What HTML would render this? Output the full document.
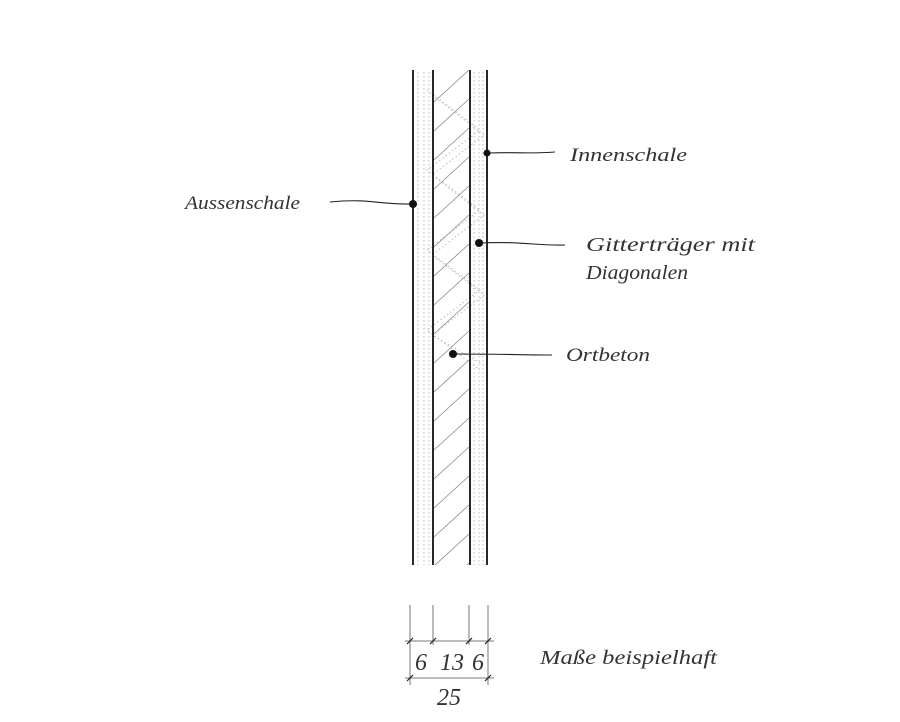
<!DOCTYPE html>
<html><head><meta charset="utf-8"><style>
html,body{margin:0;padding:0;background:#fff;}
svg{display:block;}
text{font-family:"Liberation Serif",serif;font-style:italic;fill:#333;}
</style></head><body>
<svg width="900" height="722" viewBox="0 0 900 722" xmlns="http://www.w3.org/2000/svg">
<defs>
<clipPath id="mid"><rect x="434" y="70" width="35" height="495"/></clipPath>
</defs>
<g stroke="#bbb" stroke-width="1" stroke-dasharray="1.5 2.5" fill="none">
<line x1="418" y1="72" x2="418" y2="565"/>
<line x1="424" y1="72" x2="424" y2="565"/>
<line x1="429" y1="72" x2="429" y2="565"/>
<line x1="474" y1="72" x2="474" y2="565"/>
<line x1="479" y1="72" x2="479" y2="565"/>
<line x1="483" y1="72" x2="483" y2="565"/>
<polyline points="427,90 480,130 427,170 480,210 427,250 480,290 427,330 480,370"/>
<polyline points="432,95 484,135 432,175 484,215 432,255 484,295 432,335 484,365"/>
</g>
<g clip-path="url(#mid)" stroke="#888" stroke-width="0.8">
<line x1="434" y1="102" x2="469" y2="70"/>
<line x1="434" y1="131" x2="469" y2="99"/>
<line x1="434" y1="160" x2="469" y2="128"/>
<line x1="434" y1="189" x2="469" y2="157"/>
<line x1="434" y1="218" x2="469" y2="186"/>
<line x1="434" y1="247" x2="469" y2="215"/>
<line x1="434" y1="276" x2="469" y2="244"/>
<line x1="434" y1="305" x2="469" y2="273"/>
<line x1="434" y1="334" x2="469" y2="302"/>
<line x1="434" y1="363" x2="469" y2="331"/>
<line x1="434" y1="392" x2="469" y2="360"/>
<line x1="434" y1="421" x2="469" y2="389"/>
<line x1="434" y1="450" x2="469" y2="418"/>
<line x1="434" y1="479" x2="469" y2="447"/>
<line x1="434" y1="508" x2="469" y2="476"/>
<line x1="434" y1="537" x2="469" y2="505"/>
<line x1="434" y1="566" x2="469" y2="534"/>
<line x1="434" y1="595" x2="469" y2="563"/>
</g>
<g stroke="#111" stroke-width="1.8">
<line x1="413" y1="70" x2="413" y2="565"/>
<line x1="433" y1="70" x2="433" y2="565"/>
<line x1="470" y1="70" x2="470" y2="565"/>
<line x1="487" y1="70" x2="487" y2="565"/>
</g>
<g stroke="#222" stroke-width="1.1" fill="none">
<path d="M330,202 C370,198 380,205 413,204"/>
<path d="M487,153 C520,152 530,154 555,152"/>
<path d="M479,243 C520,241 540,246 565,245"/>
<path d="M453,354 C500,354 530,355 552,355"/>
</g>
<g fill="#111">
<circle cx="413" cy="204" r="4"/>
<circle cx="487" cy="153" r="3.5"/>
<circle cx="479" cy="243" r="4"/>
<circle cx="453" cy="354" r="4"/>
</g>
<text x="185" y="209" font-size="19" textLength="115" lengthAdjust="spacingAndGlyphs">Aussenschale</text>
<text x="570" y="161" font-size="19" textLength="117" lengthAdjust="spacingAndGlyphs">Innenschale</text>
<text x="586" y="251" font-size="20" textLength="169" lengthAdjust="spacingAndGlyphs">Gitterträger mit</text>
<text x="586" y="279" font-size="20" textLength="102" lengthAdjust="spacingAndGlyphs">Diagonalen</text>
<text x="566" y="361" font-size="19" textLength="84" lengthAdjust="spacingAndGlyphs">Ortbeton</text>
<g stroke="#777" stroke-width="1">
<line x1="410" y1="605" x2="410" y2="685"/>
<line x1="433" y1="605" x2="433" y2="645"/>
<line x1="469" y1="605" x2="469" y2="645"/>
<line x1="488" y1="605" x2="488" y2="685"/>
<line x1="405" y1="641" x2="494" y2="641"/>
<line x1="405" y1="678" x2="494" y2="678"/>
</g>
<g stroke="#222" stroke-width="1.2">
<line x1="407" y1="644" x2="413" y2="638"/>
<line x1="430" y1="644" x2="436" y2="638"/>
<line x1="466" y1="644" x2="472" y2="638"/>
<line x1="485" y1="644" x2="491" y2="638"/>
<line x1="407" y1="681" x2="413" y2="675"/>
<line x1="485" y1="681" x2="491" y2="675"/>
</g>
<text x="415" y="670" font-size="24">6</text>
<text x="440" y="670" font-size="24">13</text>
<text x="472" y="670" font-size="24">6</text>
<text x="437" y="705" font-size="24">25</text>
<text x="540" y="664" font-size="20" textLength="177" lengthAdjust="spacingAndGlyphs">Maße beispielhaft</text>
</svg>
</body></html>
